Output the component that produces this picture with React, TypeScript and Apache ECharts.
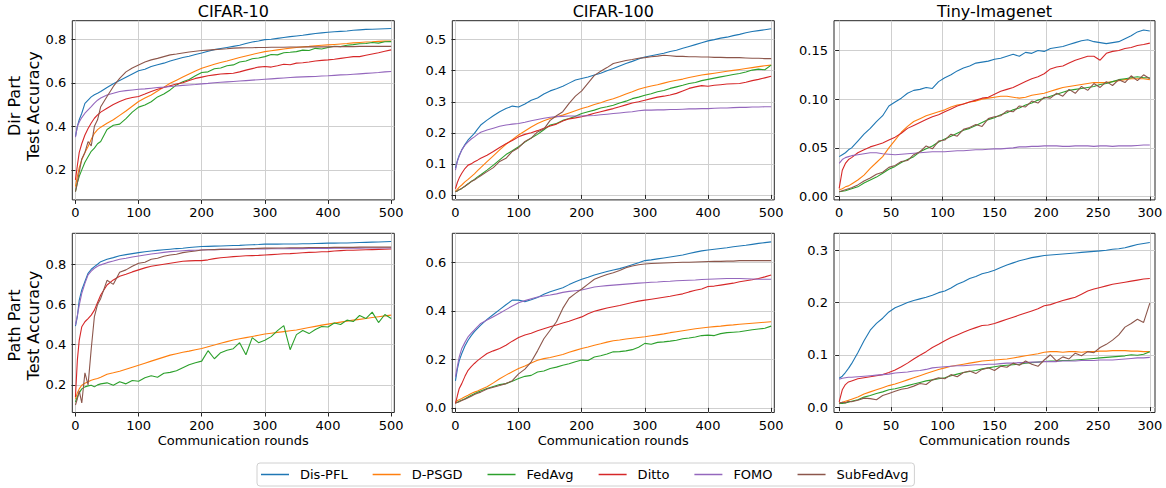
import React, { useEffect, useRef } from 'react';
import * as echarts from 'echarts';

// ---------- categories / labels ----------
const METHODS = ['Dis-PFL', 'D-PSGD', 'FedAvg', 'Ditto', 'FOMO', 'SubFedAvg'];
const DATASETS = ['CIFAR-10', 'CIFAR-100', 'Tiny-Imagenet'];
const ROW_LABELS = ['Dir Part\nTest Accuracy', 'Path Part\nTest Accuracy'];
const X_NAME = 'Communication rounds';

// ---------- x values (communication rounds) ----------
const ROUNDS_500 = [0, 3, 6, 10, 15, 20, 25, 30, 35, 40,
  50, 60, 70, 80, 90, 100, 110, 120, 130, 140,
  150, 160, 170, 180, 190, 200, 210, 220, 230, 240,
  250, 260, 270, 280, 290, 300, 310, 320, 330, 340,
  350, 360, 370, 380, 390, 400, 410, 420, 430, 440,
  450, 460, 470, 480, 490, 500];
const ROUNDS_300 = [0, 3, 6, 9, 12, 18, 24, 30, 36, 42,
  48, 54, 60, 66, 72, 78, 84, 90, 96, 102,
  108, 114, 120, 126, 132, 138, 144, 150, 156, 162,
  168, 174, 180, 186, 192, 198, 204, 210, 216, 222,
  228, 234, 240, 246, 252, 258, 264, 270, 276, 282,
  288, 294, 300];

// ---------- tick labels ----------
const X_TICKS_500 = [0, 100, 200, 300, 400, 500];
const X_TICKS_300 = [0, 50, 100, 150, 200, 250, 300];
const Y_TICKS_C10 = [0.2, 0.4, 0.6, 0.8];
const Y_TICKS_C100_DIR = [0, 0.1, 0.2, 0.3, 0.4, 0.5];
const Y_TICKS_TINY_DIR = [0, 0.05, 0.1, 0.15];
const Y_TICKS_C100_PATH = [0, 0.2, 0.4, 0.6];
const Y_TICKS_TINY_PATH = [0, 0.1, 0.2, 0.3];

// ---------- CIFAR-10, Dir partition ----------
const DIS_C10_DIR = [0.353, 0.40, 0.43, 0.46, 0.505, 0.52, 0.535, 0.545, 0.552, 0.56,
  0.578, 0.595, 0.61, 0.625, 0.64, 0.655, 0.662, 0.675, 0.683, 0.69,
  0.70, 0.708, 0.716, 0.722, 0.73, 0.737, 0.745, 0.752, 0.757, 0.762,
  0.767, 0.772, 0.78, 0.787, 0.792, 0.798, 0.80, 0.804, 0.808, 0.812,
  0.815, 0.818, 0.822, 0.826, 0.829, 0.832, 0.834, 0.836, 0.838, 0.841,
  0.843, 0.845, 0.846, 0.847, 0.848, 0.849];
const DPSGD_C10_DIR = [0.123, 0.17, 0.21, 0.246, 0.28, 0.307, 0.34, 0.368, 0.385, 0.396,
  0.414, 0.43, 0.45, 0.47, 0.492, 0.514, 0.53, 0.544, 0.562, 0.58,
  0.598, 0.612, 0.626, 0.64, 0.654, 0.667, 0.676, 0.685, 0.693, 0.70,
  0.708, 0.716, 0.723, 0.73, 0.737, 0.743, 0.747, 0.751, 0.755, 0.759,
  0.762, 0.765, 0.767, 0.77, 0.772, 0.774, 0.776, 0.778, 0.78, 0.783,
  0.785, 0.787, 0.788, 0.79, 0.791, 0.792];
const FEDAVG_C10_DIR = [0.10, 0.14, 0.17, 0.20, 0.235, 0.26, 0.285, 0.30, 0.32, 0.33,
  0.385, 0.405, 0.41, 0.435, 0.465, 0.488, 0.498, 0.513, 0.535, 0.548,
  0.567, 0.59, 0.605, 0.615, 0.632, 0.647, 0.65, 0.664, 0.668, 0.678,
  0.682, 0.695, 0.70, 0.71, 0.714, 0.72, 0.73, 0.728, 0.738, 0.74,
  0.743, 0.75, 0.748, 0.758, 0.755, 0.762, 0.768, 0.766, 0.772, 0.775,
  0.779, 0.78, 0.785, 0.782, 0.788, 0.789];
const DITTO_C10_DIR = [0.154, 0.22, 0.28, 0.32, 0.36, 0.39, 0.415, 0.437, 0.452, 0.465,
  0.483, 0.50, 0.514, 0.525, 0.532, 0.537, 0.548, 0.56, 0.57, 0.578,
  0.586, 0.594, 0.60, 0.61, 0.62, 0.626, 0.632, 0.636, 0.64, 0.642,
  0.644, 0.65, 0.658, 0.665, 0.672, 0.675, 0.672, 0.678, 0.685, 0.683,
  0.69, 0.692, 0.695, 0.70, 0.703, 0.705, 0.708, 0.712, 0.716, 0.72,
  0.72, 0.726, 0.732, 0.738, 0.745, 0.751];
const FOMO_C10_DIR = [0.35, 0.40, 0.42, 0.44, 0.46, 0.475, 0.49, 0.506, 0.52, 0.53,
  0.544, 0.552, 0.56, 0.564, 0.567, 0.57, 0.572, 0.575, 0.578, 0.58,
  0.583, 0.585, 0.588, 0.59, 0.592, 0.595, 0.597, 0.60, 0.602, 0.604,
  0.606, 0.608, 0.61, 0.612, 0.614, 0.616, 0.618, 0.62, 0.622, 0.624,
  0.626, 0.627, 0.628, 0.629, 0.631, 0.632, 0.634, 0.636, 0.637, 0.639,
  0.641, 0.643, 0.645, 0.647, 0.65, 0.652];
const SUB_C10_DIR = [0.10, 0.14, 0.19, 0.25, 0.28, 0.33, 0.31, 0.40, 0.43, 0.49,
  0.537, 0.583, 0.62, 0.65, 0.668, 0.682, 0.695, 0.705, 0.712, 0.72,
  0.728, 0.732, 0.737, 0.741, 0.745, 0.748, 0.75, 0.752, 0.754, 0.756,
  0.759, 0.76, 0.761, 0.761, 0.762, 0.762, 0.763, 0.763, 0.763, 0.764,
  0.764, 0.764, 0.765, 0.765, 0.765, 0.765, 0.766, 0.766, 0.766, 0.766,
  0.767, 0.767, 0.767, 0.767, 0.767, 0.767];

// ---------- CIFAR-100, Dir partition ----------
const DIS_C100_DIR = [0.086, 0.11, 0.128, 0.145, 0.162, 0.177, 0.188, 0.198, 0.212, 0.225,
  0.241, 0.255, 0.268, 0.278, 0.286, 0.283, 0.293, 0.305, 0.312, 0.325,
  0.335, 0.342, 0.35, 0.36, 0.37, 0.375, 0.38, 0.386, 0.392, 0.40,
  0.407, 0.415, 0.423, 0.43, 0.438, 0.444, 0.448, 0.452, 0.456, 0.462,
  0.466, 0.472, 0.478, 0.484, 0.49, 0.496, 0.50, 0.505, 0.508, 0.513,
  0.517, 0.522, 0.526, 0.529, 0.532, 0.535];
const DPSGD_C100_DIR = [0.012, 0.018, 0.025, 0.032, 0.042, 0.05, 0.059, 0.068, 0.078, 0.088,
  0.107, 0.126, 0.145, 0.163, 0.178, 0.193, 0.206, 0.219, 0.23, 0.239,
  0.246, 0.252, 0.257, 0.264, 0.271, 0.278, 0.284, 0.291, 0.297, 0.304,
  0.31, 0.317, 0.325, 0.332, 0.34, 0.346, 0.351, 0.355, 0.36, 0.365,
  0.369, 0.373, 0.378, 0.382, 0.386, 0.389, 0.392, 0.395, 0.398, 0.401,
  0.404, 0.407, 0.41, 0.413, 0.416, 0.418];
const FEDAVG_C100_DIR = [0.01, 0.013, 0.017, 0.021, 0.028, 0.036, 0.043, 0.05, 0.058, 0.065,
  0.08, 0.096, 0.113, 0.13, 0.142, 0.155, 0.17, 0.183, 0.195, 0.21,
  0.225, 0.23, 0.24, 0.246, 0.253, 0.262, 0.268, 0.273, 0.28, 0.284,
  0.289, 0.296, 0.302, 0.31, 0.315, 0.321, 0.326, 0.332, 0.336, 0.343,
  0.348, 0.353, 0.359, 0.362, 0.368, 0.372, 0.376, 0.38, 0.384, 0.388,
  0.391, 0.396, 0.402, 0.405, 0.403, 0.418];
const DITTO_C100_DIR = [0.02, 0.04, 0.055, 0.07, 0.085, 0.096, 0.1, 0.107, 0.112, 0.118,
  0.128, 0.14, 0.153, 0.165, 0.175, 0.187, 0.195, 0.2, 0.207, 0.215,
  0.222, 0.228, 0.238, 0.245, 0.248, 0.252, 0.257, 0.263, 0.268, 0.273,
  0.278, 0.284, 0.29, 0.296, 0.3, 0.305, 0.31, 0.315, 0.318, 0.322,
  0.327, 0.335, 0.343, 0.348, 0.352, 0.35, 0.353, 0.355, 0.357, 0.358,
  0.359, 0.363, 0.368, 0.372, 0.377, 0.382];
const FOMO_C100_DIR = [0.08, 0.108, 0.125, 0.145, 0.16, 0.171, 0.18, 0.187, 0.195, 0.202,
  0.209, 0.215, 0.221, 0.225, 0.228, 0.23, 0.234, 0.239, 0.243, 0.247,
  0.25, 0.252, 0.253, 0.254, 0.254, 0.254, 0.255, 0.256, 0.258, 0.26,
  0.262, 0.264, 0.266, 0.268, 0.271, 0.273, 0.273, 0.274, 0.274, 0.275,
  0.275, 0.276, 0.277, 0.277, 0.278, 0.278, 0.279, 0.28, 0.28, 0.281,
  0.282, 0.282, 0.283, 0.283, 0.284, 0.284];
const SUB_C100_DIR = [0.01, 0.013, 0.017, 0.021, 0.028, 0.035, 0.043, 0.048, 0.055, 0.062,
  0.075, 0.088, 0.108, 0.118, 0.14, 0.152, 0.172, 0.183, 0.203, 0.212,
  0.24, 0.255, 0.268, 0.295, 0.318, 0.335, 0.36, 0.385, 0.398, 0.41,
  0.423, 0.428, 0.433, 0.436, 0.44, 0.442, 0.445, 0.447, 0.45, 0.448,
  0.446, 0.446, 0.445, 0.445, 0.444, 0.444, 0.443, 0.443, 0.442, 0.442,
  0.442, 0.441, 0.44, 0.44, 0.439, 0.439];

// ---------- Tiny-Imagenet, Dir partition ----------
const DIS_TINY_DIR = [0.041, 0.043, 0.045, 0.048, 0.05, 0.057, 0.064, 0.07, 0.077, 0.083,
  0.093, 0.097, 0.101, 0.106, 0.109, 0.11, 0.112, 0.111, 0.118, 0.122,
  0.125, 0.129, 0.132, 0.134, 0.137, 0.138, 0.139, 0.141, 0.142, 0.144,
  0.146, 0.144, 0.148, 0.147, 0.15, 0.149, 0.152, 0.153, 0.154, 0.156,
  0.158, 0.16, 0.161, 0.159, 0.158, 0.157, 0.158, 0.159, 0.162, 0.165,
  0.169, 0.171, 0.17];
const DPSGD_TINY_DIR = [0.007, 0.008, 0.01, 0.011, 0.013, 0.017, 0.022, 0.029, 0.035, 0.041,
  0.05, 0.058, 0.066, 0.072, 0.077, 0.08, 0.083, 0.085, 0.087, 0.089,
  0.092, 0.094, 0.095, 0.097, 0.098, 0.1, 0.101, 0.102, 0.103, 0.103,
  0.102, 0.101, 0.102, 0.104, 0.105, 0.106, 0.108, 0.11, 0.112, 0.113,
  0.114, 0.115, 0.116, 0.117, 0.117, 0.117, 0.118, 0.119, 0.12, 0.121,
  0.121, 0.121, 0.12];
const FEDAVG_TINY_DIR = [0.005, 0.0055, 0.006, 0.007, 0.008, 0.01, 0.014, 0.017, 0.02, 0.024,
  0.028, 0.031, 0.035, 0.038, 0.041, 0.046, 0.049, 0.052, 0.056, 0.059,
  0.062, 0.065, 0.068, 0.07, 0.073, 0.076, 0.079, 0.081, 0.084, 0.086,
  0.089, 0.091, 0.094, 0.096, 0.099, 0.101, 0.103, 0.105, 0.107, 0.109,
  0.11, 0.111, 0.112, 0.113, 0.115, 0.116, 0.118, 0.12, 0.121, 0.122,
  0.123, 0.122, 0.122];
const DITTO_TINY_DIR = [0.0085, 0.027, 0.034, 0.038, 0.04, 0.045, 0.048, 0.051, 0.053, 0.055,
  0.058, 0.061, 0.065, 0.07, 0.073, 0.076, 0.079, 0.082, 0.084, 0.087,
  0.09, 0.093, 0.095, 0.097, 0.099, 0.101, 0.102, 0.105, 0.108, 0.11,
  0.112, 0.115, 0.118, 0.121, 0.123, 0.126, 0.131, 0.133, 0.134, 0.137,
  0.14, 0.142, 0.144, 0.144, 0.14, 0.147, 0.149, 0.15, 0.152, 0.153,
  0.155, 0.156, 0.1575];
const FOMO_TINY_DIR = [0.034, 0.038, 0.04, 0.041, 0.042, 0.043, 0.044, 0.045, 0.045, 0.044,
  0.0435, 0.043, 0.0435, 0.044, 0.0445, 0.045, 0.0455, 0.046, 0.046, 0.046,
  0.0465, 0.047, 0.047, 0.0475, 0.048, 0.048, 0.0485, 0.049, 0.049, 0.0495,
  0.05, 0.051, 0.051, 0.0515, 0.0515, 0.052, 0.052, 0.052, 0.0515, 0.0515,
  0.052, 0.052, 0.052, 0.0515, 0.052, 0.052, 0.0515, 0.052, 0.052, 0.052,
  0.0525, 0.053, 0.053];
const SUB_TINY_DIR = [0.005, 0.006, 0.007, 0.008, 0.009, 0.012, 0.016, 0.019, 0.023, 0.025,
  0.03, 0.032, 0.036, 0.037, 0.043, 0.046, 0.052, 0.049, 0.057, 0.058,
  0.064, 0.062, 0.069, 0.071, 0.074, 0.072, 0.08, 0.082, 0.083, 0.088,
  0.087, 0.093, 0.092, 0.098, 0.096, 0.102, 0.101, 0.106, 0.103, 0.11,
  0.106, 0.113, 0.109, 0.116, 0.112, 0.118, 0.114, 0.12, 0.117, 0.124,
  0.119, 0.125, 0.121];

// ---------- CIFAR-10, Path partition ----------
const DIS_C10_PATH = [0.4925, 0.539, 0.622, 0.672, 0.714, 0.755, 0.775, 0.788, 0.80, 0.813,
  0.825, 0.833, 0.842, 0.848, 0.853, 0.858, 0.862, 0.866, 0.869, 0.872,
  0.875, 0.878, 0.88, 0.883, 0.886, 0.888, 0.889, 0.89, 0.891, 0.892,
  0.893, 0.894, 0.896, 0.897, 0.898, 0.90, 0.90, 0.90, 0.901, 0.901,
  0.901, 0.902, 0.902, 0.903, 0.904, 0.905, 0.905, 0.906, 0.906, 0.907,
  0.908, 0.909, 0.91, 0.911, 0.912, 0.913];
const DPSGD_C10_PATH = [0.13, 0.16, 0.18, 0.198, 0.208, 0.215, 0.223, 0.228, 0.232, 0.238,
  0.253, 0.26, 0.268, 0.278, 0.288, 0.298, 0.308, 0.318, 0.328, 0.338,
  0.348, 0.355, 0.362, 0.368, 0.375, 0.381, 0.39, 0.398, 0.407, 0.415,
  0.423, 0.429, 0.435, 0.441, 0.447, 0.453, 0.457, 0.461, 0.465, 0.469,
  0.473, 0.479, 0.485, 0.491, 0.497, 0.502, 0.507, 0.512, 0.517, 0.522,
  0.526, 0.53, 0.535, 0.539, 0.543, 0.547];
const FEDAVG_C10_PATH = [0.115, 0.14, 0.16, 0.18, 0.19, 0.195, 0.198, 0.19, 0.2, 0.205,
  0.21, 0.198, 0.215, 0.205, 0.222, 0.218, 0.235, 0.245, 0.238, 0.258,
  0.262, 0.27, 0.285, 0.3, 0.31, 0.318, 0.37, 0.33, 0.36, 0.372,
  0.38, 0.41, 0.35, 0.435, 0.41, 0.422, 0.44, 0.47, 0.495, 0.375,
  0.45, 0.47, 0.455, 0.475, 0.49, 0.488, 0.508, 0.5, 0.522, 0.515,
  0.545, 0.53, 0.562, 0.51, 0.55, 0.53];
const DITTO_C10_PATH = [0.14, 0.323, 0.423, 0.489, 0.514, 0.53, 0.547, 0.572, 0.61, 0.647,
  0.697, 0.722, 0.74, 0.75, 0.762, 0.772, 0.782, 0.79, 0.795, 0.80,
  0.805, 0.81, 0.815, 0.817, 0.818, 0.818, 0.822, 0.828, 0.832, 0.835,
  0.838, 0.84, 0.842, 0.843, 0.844, 0.846, 0.848, 0.85, 0.852, 0.853,
  0.855, 0.857, 0.859, 0.86, 0.862, 0.863, 0.866, 0.868, 0.87, 0.87,
  0.871, 0.872, 0.873, 0.874, 0.875, 0.876];
const FOMO_C10_PATH = [0.497, 0.545, 0.597, 0.655, 0.705, 0.747, 0.766, 0.78, 0.79, 0.797,
  0.808, 0.816, 0.825, 0.83, 0.836, 0.841, 0.846, 0.851, 0.855, 0.859,
  0.863, 0.865, 0.867, 0.869, 0.87, 0.871, 0.872, 0.873, 0.874, 0.874,
  0.875, 0.875, 0.876, 0.876, 0.876, 0.876, 0.877, 0.877, 0.877, 0.878,
  0.878, 0.878, 0.879, 0.879, 0.879, 0.879, 0.88, 0.88, 0.88, 0.88,
  0.88, 0.881, 0.881, 0.881, 0.881, 0.881];
const SUB_C10_PATH = [0.10, 0.13, 0.17, 0.11, 0.26, 0.2, 0.38, 0.54, 0.6, 0.63,
  0.72, 0.70, 0.76, 0.772, 0.79, 0.805, 0.81, 0.825, 0.83, 0.84,
  0.846, 0.85, 0.858, 0.862, 0.866, 0.871, 0.872, 0.873, 0.874, 0.875,
  0.875, 0.876, 0.877, 0.878, 0.879, 0.88, 0.88, 0.881, 0.881, 0.882,
  0.882, 0.882, 0.883, 0.883, 0.883, 0.883, 0.884, 0.884, 0.884, 0.884,
  0.885, 0.885, 0.885, 0.885, 0.885, 0.885];

// ---------- CIFAR-100, Path partition ----------
const DIS_C100_PATH = [0.111, 0.16, 0.195, 0.224, 0.255, 0.279, 0.298, 0.314, 0.328, 0.341,
  0.365, 0.385, 0.405, 0.425, 0.444, 0.444, 0.438, 0.446, 0.455, 0.468,
  0.479, 0.487, 0.495, 0.508, 0.52, 0.53, 0.538, 0.548, 0.555, 0.562,
  0.568, 0.574, 0.582, 0.59, 0.598, 0.607, 0.61, 0.614, 0.618, 0.622,
  0.626, 0.63, 0.636, 0.642, 0.647, 0.651, 0.654, 0.657, 0.66, 0.664,
  0.667, 0.67, 0.674, 0.678, 0.681, 0.684];
const DPSGD_C100_PATH = [0.025, 0.03, 0.034, 0.039, 0.046, 0.052, 0.059, 0.065, 0.07, 0.076,
  0.087, 0.103, 0.12, 0.135, 0.149, 0.162, 0.173, 0.185, 0.196, 0.203,
  0.208, 0.214, 0.22, 0.229, 0.237, 0.245, 0.251, 0.258, 0.264, 0.271,
  0.277, 0.28, 0.284, 0.287, 0.29, 0.293, 0.297, 0.301, 0.305, 0.31,
  0.314, 0.318, 0.322, 0.326, 0.329, 0.332, 0.335, 0.337, 0.34, 0.342,
  0.345, 0.347, 0.349, 0.351, 0.353, 0.355];
const FEDAVG_C100_PATH = [0.02, 0.023, 0.027, 0.032, 0.038, 0.045, 0.052, 0.058, 0.064, 0.07,
  0.08, 0.088, 0.096, 0.1, 0.11, 0.121, 0.13, 0.134, 0.148, 0.152,
  0.162, 0.168, 0.176, 0.182, 0.19, 0.197, 0.195, 0.21, 0.215, 0.222,
  0.231, 0.232, 0.235, 0.24, 0.25, 0.266, 0.262, 0.27, 0.272, 0.275,
  0.279, 0.285, 0.288, 0.292, 0.298, 0.30, 0.298, 0.306, 0.31, 0.312,
  0.314, 0.318, 0.322, 0.325, 0.328, 0.337];
const DITTO_C100_PATH = [0.018, 0.05, 0.08, 0.10, 0.13, 0.155, 0.17, 0.183, 0.195, 0.205,
  0.224, 0.235, 0.245, 0.258, 0.275, 0.29, 0.3, 0.308, 0.318, 0.326,
  0.334, 0.342, 0.35, 0.357, 0.366, 0.375, 0.388, 0.398, 0.405, 0.412,
  0.417, 0.422, 0.428, 0.434, 0.44, 0.444, 0.448, 0.452, 0.456, 0.46,
  0.465, 0.47, 0.478, 0.485, 0.49, 0.50, 0.502, 0.506, 0.51, 0.514,
  0.52, 0.524, 0.528, 0.533, 0.54, 0.548];
const FOMO_C100_PATH = [0.128, 0.17, 0.21, 0.245, 0.27, 0.293, 0.308, 0.321, 0.335, 0.348,
  0.362, 0.376, 0.39, 0.405, 0.42, 0.433, 0.442, 0.45, 0.457, 0.461,
  0.465, 0.47, 0.476, 0.48, 0.483, 0.486, 0.492, 0.498, 0.501, 0.504,
  0.506, 0.508, 0.51, 0.512, 0.514, 0.516, 0.518, 0.519, 0.521, 0.522,
  0.524, 0.525, 0.526, 0.527, 0.529, 0.53, 0.531, 0.532, 0.533, 0.533,
  0.533, 0.532, 0.531, 0.53, 0.53, 0.53];
const SUB_C100_PATH = [0.02, 0.022, 0.025, 0.03, 0.036, 0.042, 0.048, 0.055, 0.06, 0.065,
  0.078, 0.085, 0.092, 0.1, 0.112, 0.14, 0.16, 0.19, 0.235, 0.285,
  0.32, 0.355, 0.41, 0.452, 0.472, 0.49, 0.51, 0.53, 0.54, 0.55,
  0.557, 0.566, 0.578, 0.585, 0.59, 0.593, 0.595, 0.596, 0.597, 0.598,
  0.599, 0.6, 0.6, 0.601, 0.602, 0.603, 0.604, 0.604, 0.605, 0.605,
  0.607, 0.607, 0.607, 0.607, 0.607, 0.607];

// ---------- Tiny-Imagenet, Path partition ----------
const DIS_TINY_PATH = [0.055, 0.059, 0.066, 0.074, 0.083, 0.104, 0.127, 0.147, 0.16, 0.17,
  0.182, 0.19, 0.195, 0.2, 0.204, 0.207, 0.21, 0.214, 0.219, 0.222,
  0.228, 0.235, 0.24, 0.246, 0.25, 0.255, 0.258, 0.262, 0.267, 0.272,
  0.276, 0.28, 0.283, 0.286, 0.288, 0.29, 0.291, 0.292, 0.293, 0.294,
  0.295, 0.296, 0.297, 0.298, 0.299, 0.3, 0.302, 0.303, 0.305, 0.308,
  0.311, 0.313, 0.315];
const DPSGD_TINY_PATH = [0.008, 0.009, 0.011, 0.013, 0.015, 0.019, 0.025, 0.029, 0.033, 0.037,
  0.041, 0.044, 0.048, 0.052, 0.056, 0.06, 0.064, 0.068, 0.072, 0.075,
  0.078, 0.08, 0.082, 0.084, 0.086, 0.088, 0.089, 0.09, 0.091, 0.092,
  0.094, 0.096, 0.098, 0.1, 0.102, 0.105, 0.106, 0.106, 0.105, 0.106,
  0.106, 0.105, 0.106, 0.106, 0.107, 0.107, 0.108, 0.108, 0.108, 0.107,
  0.107, 0.106, 0.106];
const FEDAVG_TINY_PATH = [0.007, 0.007, 0.008, 0.009, 0.011, 0.014, 0.019, 0.022, 0.026, 0.029,
  0.033, 0.035, 0.038, 0.041, 0.044, 0.047, 0.05, 0.052, 0.054, 0.056,
  0.06, 0.063, 0.066, 0.068, 0.07, 0.073, 0.075, 0.077, 0.079, 0.08,
  0.081, 0.082, 0.084, 0.085, 0.086, 0.087, 0.088, 0.088, 0.089, 0.089,
  0.09, 0.091, 0.092, 0.093, 0.094, 0.095, 0.096, 0.097, 0.098, 0.1,
  0.099, 0.101, 0.106];
const DITTO_TINY_PATH = [0.01, 0.033, 0.043, 0.048, 0.05, 0.054, 0.056, 0.058, 0.06, 0.062,
  0.066, 0.071, 0.077, 0.084, 0.092, 0.099, 0.106, 0.114, 0.12, 0.127,
  0.133, 0.138, 0.143, 0.148, 0.152, 0.156, 0.157, 0.16, 0.164, 0.168,
  0.172, 0.176, 0.18, 0.184, 0.188, 0.194, 0.196, 0.2, 0.204, 0.207,
  0.21, 0.216, 0.222, 0.226, 0.229, 0.232, 0.235, 0.237, 0.239, 0.241,
  0.243, 0.245, 0.246];
const FOMO_TINY_PATH = [0.053, 0.055, 0.056, 0.057, 0.057, 0.058, 0.059, 0.06, 0.061, 0.062,
  0.063, 0.065, 0.066, 0.067, 0.069, 0.07, 0.072, 0.075, 0.076, 0.077,
  0.078, 0.079, 0.079, 0.08, 0.081, 0.081, 0.082, 0.082, 0.083, 0.084,
  0.084, 0.085, 0.085, 0.086, 0.086, 0.087, 0.087, 0.087, 0.088, 0.088,
  0.088, 0.089, 0.089, 0.089, 0.09, 0.09, 0.09, 0.091, 0.092, 0.093,
  0.094, 0.094, 0.095];
const SUB_TINY_PATH = [0.007, 0.009, 0.008, 0.011, 0.01, 0.013, 0.017, 0.016, 0.014, 0.022,
  0.026, 0.03, 0.034, 0.036, 0.04, 0.045, 0.043, 0.052, 0.056, 0.054,
  0.062, 0.058, 0.066, 0.069, 0.064, 0.072, 0.075, 0.07, 0.078, 0.076,
  0.084, 0.08, 0.088, 0.082, 0.078, 0.09, 0.1, 0.088, 0.096, 0.092,
  0.103, 0.098, 0.106, 0.104, 0.114, 0.12, 0.128, 0.138, 0.153, 0.16,
  0.168, 0.162, 0.199];

// ---------- panel definitions (built from the arrays above) ----------
const PANELS = [
  { row: 0, col: 0, rounds: ROUNDS_500, xTicks: X_TICKS_500, xMax: 505, xStep: 100,
    yMin: 0.062, yMax: 0.885, yTicks: Y_TICKS_C10, yStep: 0.2, yDec: 1,
    values: [DIS_C10_DIR, DPSGD_C10_DIR, FEDAVG_C10_DIR, DITTO_C10_DIR, FOMO_C10_DIR, SUB_C10_DIR] },
  { row: 0, col: 1, rounds: ROUNDS_500, xTicks: X_TICKS_500, xMax: 505, xStep: 100,
    yMin: -0.016, yMax: 0.561, yTicks: Y_TICKS_C100_DIR, yStep: 0.1, yDec: 1,
    values: [DIS_C100_DIR, DPSGD_C100_DIR, FEDAVG_C100_DIR, DITTO_C100_DIR, FOMO_C100_DIR, SUB_C100_DIR] },
  { row: 0, col: 2, rounds: ROUNDS_300, xTicks: X_TICKS_300, xMax: 305, xStep: 50,
    yMin: -0.0034, yMax: 0.1805, yTicks: Y_TICKS_TINY_DIR, yStep: 0.05, yDec: 2,
    values: [DIS_TINY_DIR, DPSGD_TINY_DIR, FEDAVG_TINY_DIR, DITTO_TINY_DIR, FOMO_TINY_DIR, SUB_TINY_DIR] },
  { row: 1, col: 0, rounds: ROUNDS_500, xTicks: X_TICKS_500, xMax: 505, xStep: 100,
    yMin: 0.0625, yMax: 0.954, yTicks: Y_TICKS_C10, yStep: 0.2, yDec: 1,
    values: [DIS_C10_PATH, DPSGD_C10_PATH, FEDAVG_C10_PATH, DITTO_C10_PATH, FOMO_C10_PATH, SUB_C10_PATH] },
  { row: 1, col: 1, rounds: ROUNDS_500, xTicks: X_TICKS_500, xMax: 505, xStep: 100,
    yMin: -0.019, yMax: 0.7195, yTicks: Y_TICKS_C100_PATH, yStep: 0.2, yDec: 1,
    values: [DIS_C100_PATH, DPSGD_C100_PATH, FEDAVG_C100_PATH, DITTO_C100_PATH, FOMO_C100_PATH, SUB_C100_PATH] },
  { row: 1, col: 2, rounds: ROUNDS_300, xTicks: X_TICKS_300, xMax: 305, xStep: 50,
    yMin: -0.0105, yMax: 0.3326, yTicks: Y_TICKS_TINY_PATH, yStep: 0.1, yDec: 1,
    values: [DIS_TINY_PATH, DPSGD_TINY_PATH, FEDAVG_TINY_PATH, DITTO_TINY_PATH, FOMO_TINY_PATH, SUB_TINY_PATH] },
];

// ---------- styling ----------
const COLORS = ['#1f77b4', '#ff7f0e', '#2ca02c', '#d62728', '#9467bd', '#8c564b'];
const FONT = '"DejaVu Sans", "Liberation Sans", sans-serif';
const GRID_LEFT = [72.3, 452.3, 834];
const GRID_WIDTH = [322, 322, 321];
const GRID_TOP = [20.7, 233.3];
const GRID_HEIGHT = 179.2;
const ROW_LABEL_Y = [106, 325.5];

function fmt(v: number, step: number, dec: number) {
  const k = v / step;
  if (Math.abs(k - Math.round(k)) > 1e-6) return '';
  return (Math.round(k) * step).toFixed(dec);
}

function buildOption() {
  const grid: any[] = [];
  const xAxis: any[] = [];
  const yAxis: any[] = [];
  const series: any[] = [];
  const graphic: any[] = [];

  PANELS.forEach((p, idx) => {
    grid.push({
      left: GRID_LEFT[p.col], top: GRID_TOP[p.row],
      width: GRID_WIDTH[p.col], height: GRID_HEIGHT,
      containLabel: false, outerBoundsMode: 'none',
      show: true, borderColor: '#262626', borderWidth: 1, backgroundColor: 'transparent',
    });
    xAxis.push({
      type: 'value', gridIndex: idx, min: -5, max: p.xMax,
      minInterval: p.xStep, maxInterval: p.xStep,
      axisLine: { show: false },
      axisTick: { show: true, length: 4, lineStyle: { color: '#262626', width: 1 }, customValues: p.xTicks },
      axisLabel: { show: true, margin: 6, fontSize: 13, fontFamily: FONT, color: '#000',
        customValues: p.xTicks, formatter: (v: number) => fmt(v, p.xStep, 0) },
      splitLine: { show: true, lineStyle: { color: '#cfcfcf', width: 1 } },
      name: p.row === 1 ? X_NAME : '',
      nameLocation: 'middle', nameGap: 21,
      nameTextStyle: { fontSize: 13, fontFamily: FONT, color: '#000' },
    });
    yAxis.push({
      type: 'value', gridIndex: idx, min: p.yMin, max: p.yMax,
      minInterval: p.yStep, maxInterval: p.yStep,
      axisLine: { show: false },
      axisTick: { show: true, length: 4, lineStyle: { color: '#262626', width: 1 }, customValues: p.yTicks },
      axisLabel: { show: true, margin: 6, fontSize: 13, fontFamily: FONT, color: '#000',
        customValues: p.yTicks, formatter: (v: number) => fmt(v, p.yStep, p.yDec) },
      splitLine: { show: true, lineStyle: { color: '#cfcfcf', width: 1 } },
    });
    p.values.forEach((vals, k) => {
      series.push({
        type: 'line', name: METHODS[k], xAxisIndex: idx, yAxisIndex: idx,
        data: p.rounds.map((r, i) => [r, vals[i]]),
        symbol: 'none', showSymbol: false, silent: true,
        lineStyle: { width: 1.1, color: COLORS[k] }, itemStyle: { color: COLORS[k] },
        emphasis: { disabled: true }, z: 2 + k,
      });
    });
    if (p.row === 0) {
      graphic.push({
        type: 'text', x: GRID_LEFT[p.col] + GRID_WIDTH[p.col] / 2, y: 11,
        style: { text: DATASETS[p.col], font: `16px ${FONT}`, fill: '#000',
          align: 'center', verticalAlign: 'middle', textAlign: 'center', textVerticalAlign: 'middle' },
      });
    }
  });

  ROW_LABELS.forEach((t, r) => {
    graphic.push({
      type: 'text', x: 24, y: ROW_LABEL_Y[r], rotation: Math.PI / 2,
      style: { text: t, font: `16px ${FONT}`, fill: '#000', lineHeight: 19,
        align: 'center', verticalAlign: 'middle', textAlign: 'center', textVerticalAlign: 'middle' },
    });
  });

  return {
    animation: false,
    backgroundColor: '#ffffff',
    grid, xAxis, yAxis, series, graphic,
    legend: {
      data: METHODS, left: 257, top: 463, orient: 'horizontal',
      icon: 'rect', itemWidth: 28, itemHeight: 1.5, itemGap: 25,
      padding: [5, 6, 5, 4],
      borderColor: '#d0d0d0', borderWidth: 1, borderRadius: 3,
      selectedMode: false,
      textStyle: { fontSize: 13, fontFamily: FONT, color: '#000', padding: [0, 0, 0, 6] },
    },
  };
}

export default function App() {
  const ref = useRef<HTMLDivElement>(null);
  useEffect(() => {
    if (!ref.current) return;
    const chart = echarts.init(ref.current, undefined, { renderer: 'svg' });
    chart.setOption(buildOption() as any);
    return () => chart.dispose();
  }, []);
  return (
    <div
      ref={ref}
      style={{ position: 'fixed', left: 0, top: 0, width: 1166, height: 488, background: '#fff' }}
    />
  );
}
